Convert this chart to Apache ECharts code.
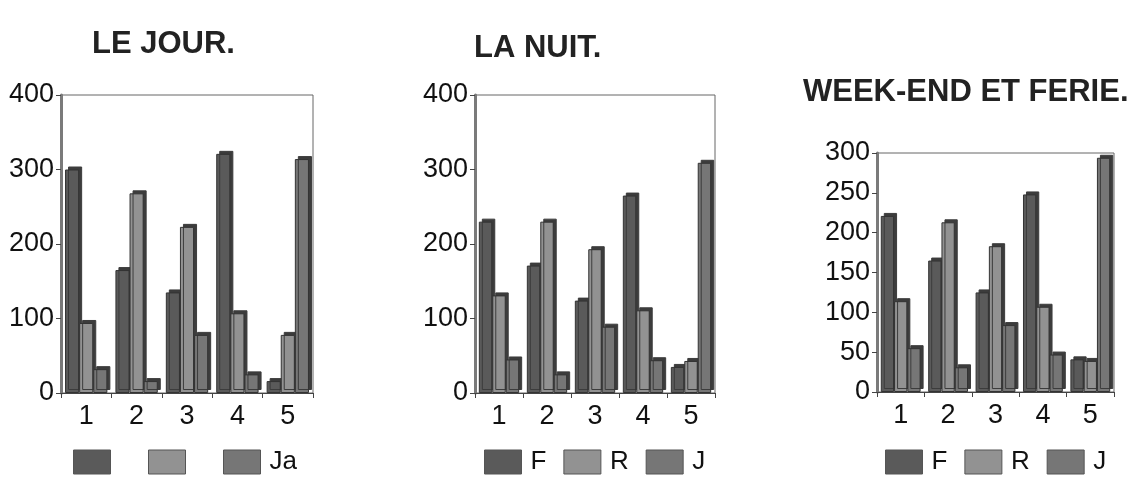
<!DOCTYPE html>
<html>
<head>
<meta charset="utf-8">
<script src="https://cdn.jsdelivr.net/npm/echarts@6/dist/echarts.min.js"></script>
<style>
html,body{margin:0;padding:0;background:#fff;}
#c{width:1141px;height:493px;}
</style>
</head>
<body>
<div id="c"></div>
<script>
const categories = ['1', '2', '3', '4', '5'];
const titles = ['LE JOUR.', 'LA NUIT.', 'WEEK-END ET FERIE.'];
const namesJour = ['F', 'R', 'Ja'];
const namesOther = ['F', 'R', 'J'];
const jourF = [300, 165, 135, 321, 16];
const jourR = [94, 268, 223, 107, 78];
const jourJ = [32, 16, 78, 25, 314];
const nuitF = [230, 171, 124, 265, 35];
const nuitR = [131, 230, 193, 111, 43];
const nuitJ = [45, 25, 89, 44, 309];
const weF = [221, 165, 125, 248, 41];
const weR = [114, 213, 183, 107, 39];
const weJ = [55, 31, 84, 47, 294];
const yMax = [400, 400, 300];
const yStep = [100, 100, 50];

const FONT = '"Liberation Sans", Arial, sans-serif';
const colors = ['#5a5a5a', '#929292', '#767676'];

const grids = [
  {left: 61, right: 828, top: 95, bottom: 100},
  {left: 475, right: 426, top: 95, bottom: 100},
  {left: 877, right: 27, top: 153, bottom: 101}
];
const titlePos = [{left: 92, top: 29}, {left: 474, top: 33}, {left: 803, top: 77}];
const legendPos = [{left: 73, top: 449}, {left: 484, top: 449}, {left: 885, top: 449}];

const dataSets = [[jourF, jourR, jourJ], [nuitF, nuitR, nuitJ], [weF, weR, weJ]];
const nameSets = [namesJour, namesOther, namesOther];

const option = {
  backgroundColor: '#ffffff',
  animation: false,
  title: titles.map((t, i) => ({
    text: t, left: titlePos[i].left, top: titlePos[i].top, padding: 0,
    textStyle: {fontFamily: FONT, fontWeight: 'bold', fontSize: 31, color: '#222'}
  })),
  grid: grids.map(g => Object.assign({show: true, borderColor: '#666', borderWidth: 1, backgroundColor: 'transparent'}, g)),
  legend: nameSets.map((names, i) => ({
    data: names, left: legendPos[i].left, top: legendPos[i].top, padding: 0,
    orient: 'horizontal', itemWidth: 37, itemHeight: 24, icon: 'rect',
    itemGap: i === 0 ? 37 : 17, selectedMode: false,
    formatter: i === 0 ? (n => n === 'Ja' ? 'Ja' : '') : (n => n),
    itemStyle: {borderColor: '#555', borderWidth: 1, shadowBlur: 0, shadowOffsetX: 0, shadowOffsetY: 0, shadowColor: 'rgba(0,0,0,0)'},
    textStyle: {fontFamily: FONT, fontSize: 26, color: '#111', padding: [0, 0, 0, 4]}
  })),
  xAxis: grids.map((g, i) => ({
    type: 'category', gridIndex: i, data: categories,
    axisLine: {lineStyle: {color: '#444', width: 1}},
    axisTick: {show: true, length: 5, lineStyle: {color: '#444'}},
    axisLabel: {fontFamily: FONT, fontSize: 27, color: '#111', margin: 10}
  })),
  yAxis: grids.map((g, i) => ({
    type: 'value', gridIndex: i, min: 0, max: yMax[i], interval: yStep[i],
    axisLine: {show: true, lineStyle: {color: '#7a7a7a', width: 3}},
    axisTick: {show: true, length: 5, lineStyle: {color: '#444'}},
    splitLine: {show: false},
    axisLabel: {fontFamily: FONT, fontSize: 27, color: '#111', margin: 7}
  })),
  series: []
};

dataSets.forEach((set, gi) => {
  set.forEach((vals, si) => {
    option.series.push({
      type: 'bar', name: nameSets[gi][si], xAxisIndex: gi, yAxisIndex: gi,
      data: vals, barGap: '0%', barCategoryGap: '16%',
      itemStyle: {
        color: colors[si], borderColor: '#333', borderWidth: 1,
        shadowColor: '#3c3c3c', shadowBlur: 0, shadowOffsetX: 3, shadowOffsetY: -3
      }
    });
  });
});

const chart = echarts.init(document.getElementById('c'), null, {renderer: 'canvas'});
chart.setOption(option);
</script>
</body>
</html>
